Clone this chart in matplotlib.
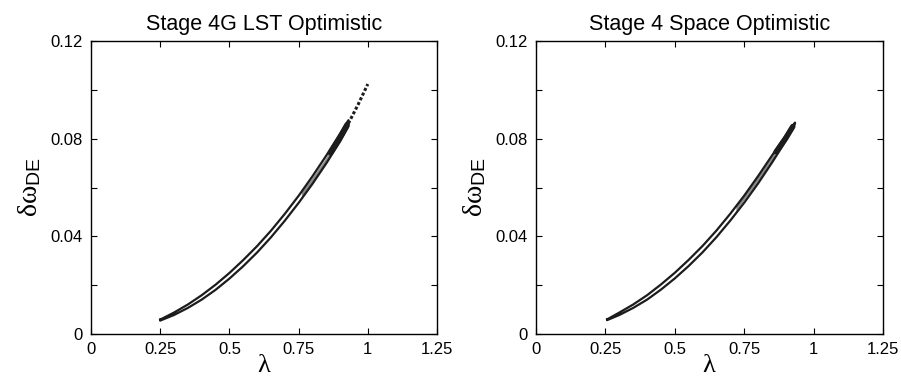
import numpy as np
import matplotlib
matplotlib.use("Agg")
import matplotlib.pyplot as plt

plt.rcParams['font.family'] = ['Liberation Sans', 'DejaVu Sans']
plt.rcParams['mathtext.fontset'] = 'custom'
plt.rcParams['mathtext.rm'] = 'Liberation Sans'
plt.rcParams['mathtext.it'] = 'Liberation Serif'

titles = ['Stage 4G LST Optimistic', 'Stage 4 Space Optimistic']

# left panel: outer contour edges
lam_a = [0.25, 0.30, 0.35, 0.40, 0.45, 0.50, 0.55, 0.60, 0.65, 0.70, 0.75, 0.80, 0.85, 0.90, 0.93]
up_a = [0.0059, 0.0088, 0.0121, 0.0159, 0.0202, 0.0250, 0.0303, 0.0360, 0.0423,
        0.0492, 0.0566, 0.0646, 0.0731, 0.0821, 0.0876]
lo_a = [0.0055, 0.0078, 0.0107, 0.0141, 0.0181, 0.0227, 0.0278, 0.0334, 0.0396,
        0.0464, 0.0537, 0.0615, 0.0699, 0.0789, 0.0850]
tail_lam_a = [0.93, 0.965, 1.00]
tail_dw_a = [0.0863, 0.0940, 0.1024]
blob_lam_a = [0.865, 0.90, 0.925]
blob_dw_a = [0.0742, 0.0806, 0.0857]
in_lam_a = [0.76, 0.80, 0.84, 0.88]
in_up_a = [0.0582, 0.0642, 0.0708, 0.0778]
in_lo_a = [0.0564, 0.0619, 0.0686, 0.0756]

# right panel
lam_b = [0.256, 0.30, 0.35, 0.40, 0.45, 0.50, 0.55, 0.60, 0.65, 0.70, 0.75, 0.80, 0.85, 0.90, 0.933]
up_b = [0.0060, 0.0088, 0.0121, 0.0159, 0.0203, 0.0251, 0.0304, 0.0361, 0.0424,
        0.0493, 0.0567, 0.0647, 0.0731, 0.0814, 0.0866]
lo_b = [0.0057, 0.0078, 0.0107, 0.0141, 0.0182, 0.0228, 0.0279, 0.0335, 0.0397,
        0.0465, 0.0538, 0.0617, 0.0702, 0.0792, 0.0862]
tail_lam_b = []
tail_dw_b = []
blob_lam_b = [0.865, 0.90, 0.925]
blob_dw_b = [0.0746, 0.0803, 0.0850]
in_lam_b = [0.72, 0.77, 0.82, 0.86]
in_up_b = [0.0523, 0.0602, 0.0680, 0.0745]
in_lo_b = [0.0505, 0.0582, 0.0659, 0.0726]

xticks = [0, 0.25, 0.5, 0.75, 1, 1.25]
xticklabels = ['0', '0.25', '0.5', '0.75', '1', '1.25']
yticks = [0, 0.02, 0.04, 0.06, 0.08, 0.10, 0.12]
yticklabels = ['0', '', '0.04', '', '0.08', '', '0.12']

panels = [
    (lam_a, up_a, lo_a, tail_lam_a, tail_dw_a, blob_lam_a, blob_dw_a, in_lam_a, in_up_a, in_lo_a),
    (lam_b, up_b, lo_b, tail_lam_b, tail_dw_b, blob_lam_b, blob_dw_b, in_lam_b, in_up_b, in_lo_b),
]
rects = [[0.101, 0.114, 0.384, 0.777], [0.595, 0.114, 0.385, 0.777]]
ink = '#1c1c1c'

fig = plt.figure(figsize=(9.01, 3.77), dpi=100)
for i, p in enumerate(panels):
    lam, up, lo, tl, td, bl, bd, il, iu, ilo = p
    ax = fig.add_axes(rects[i])
    # inner shaded region
    ax.fill_between(il, ilo, iu, color='#8a8a8a', lw=0)
    # outer contour as closed outline
    xs = np.concatenate([lam, lam[::-1], lam[:1]])
    ys = np.concatenate([up, lo[::-1], up[:1]])
    ax.plot(xs, ys, color=ink, lw=1.6, solid_joinstyle='round')
    # dense dark part near the upper end
    ax.plot(bl, bd, color=ink, lw=4.0, solid_capstyle='round')
    if tl:
        ax.plot(tl, td, color=ink, lw=2.2, ls=(0, (1, 0.7)))

    ax.set_xlim(0, 1.25)
    ax.set_ylim(0, 0.12)
    ax.set_xticks(xticks)
    ax.set_xticklabels(xticklabels)
    ax.set_yticks(yticks)
    ax.set_yticklabels(yticklabels)
    ax.tick_params(direction='in', top=True, right=True, length=4, width=0.8,
                   labelsize=12, pad=6)
    for s in ax.spines.values():
        s.set_linewidth(1.0)
    ax.set_title(titles[i], fontsize=15.5, pad=8)
    ax.set_xlabel(r'$\lambda$', fontsize=19, labelpad=-3)
    ax.set_ylabel(r'$\delta\omega_{\mathrm{DE}}$', fontsize=20, labelpad=5)

fig.savefig('out.png', dpi=100)
